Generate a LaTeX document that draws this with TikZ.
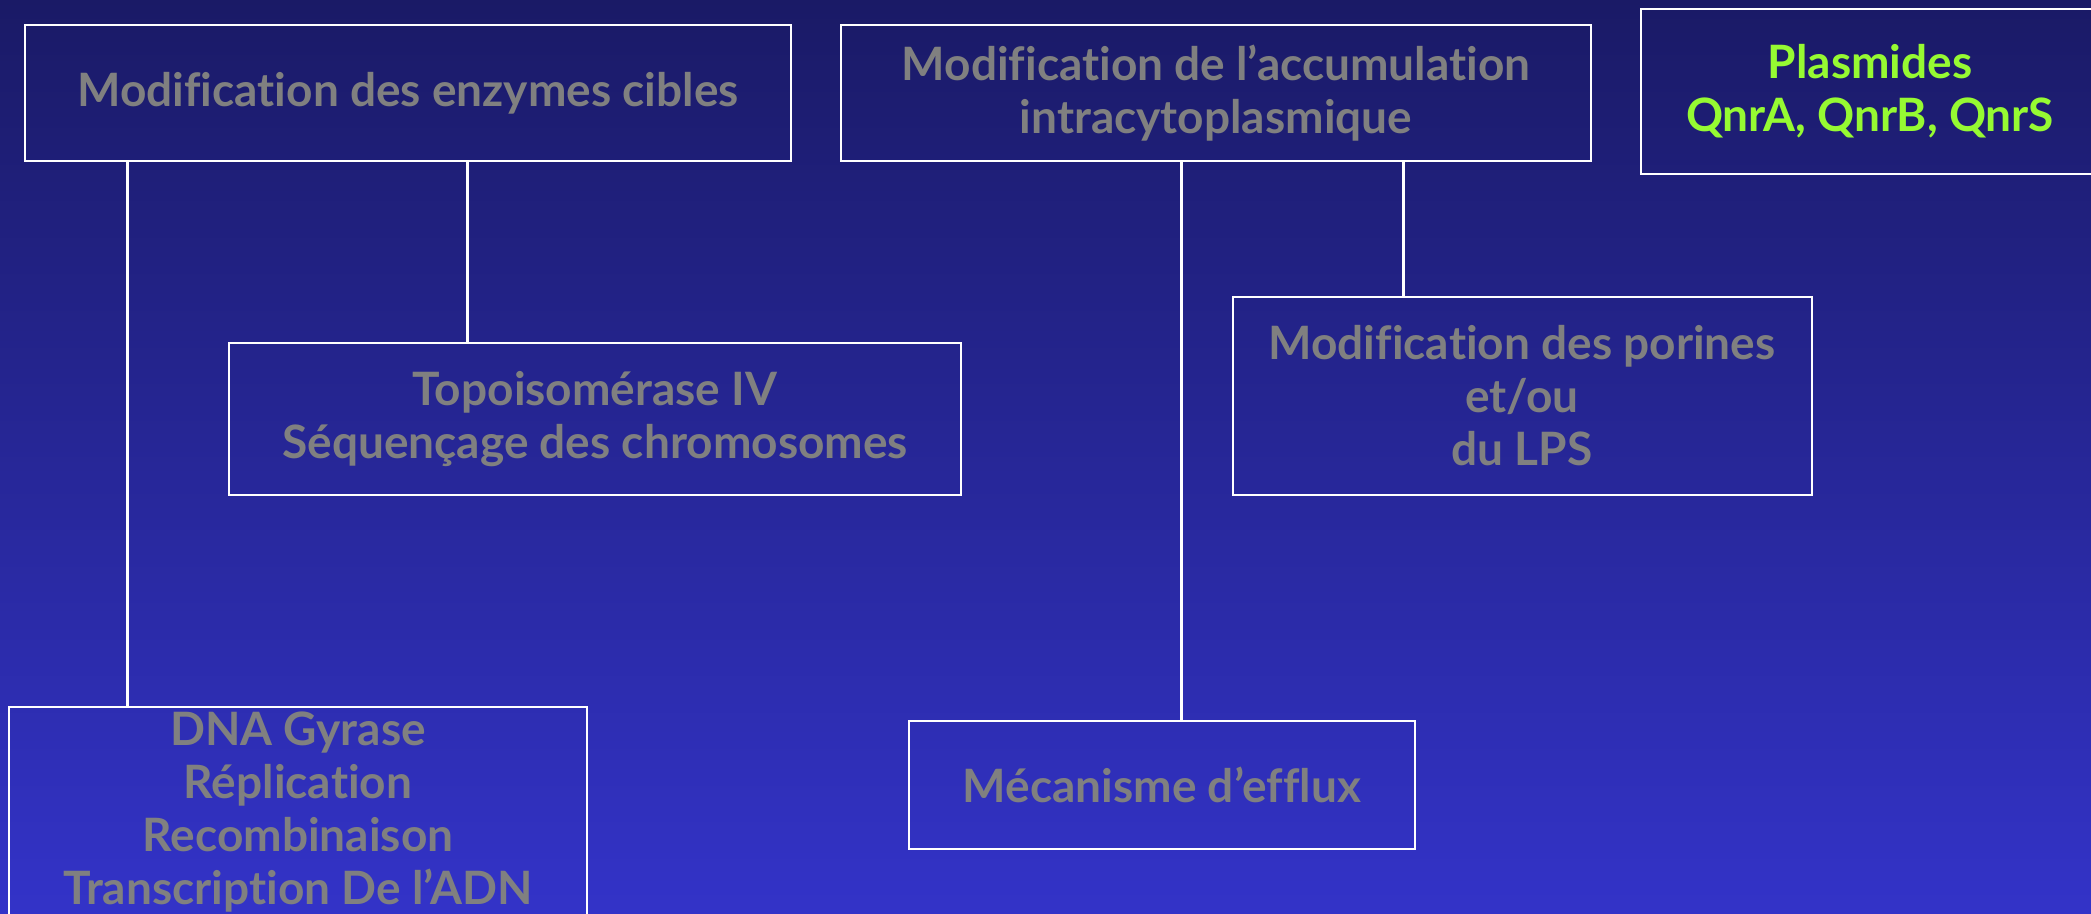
\documentclass[tikz,border=0pt]{standalone}
\usepackage{fontspec}
\setmainfont{Lato}[Ligatures={TeX,NoCommon}]
\definecolor{bgtop}{RGB}{26,26,102}
\definecolor{bgbot}{RGB}{51,51,200}
\definecolor{txtgray}{RGB}{128,128,128}
\definecolor{txtgreen}{RGB}{150,250,50}
\tikzset{
  boxnode/.style={draw=white, line width=2pt, rectangle, align=center, inner sep=0pt,
     font=\fontsize{46}{53}\selectfont\bfseries, text=txtgray},
  conn/.style={draw=white, line width=3pt}
}
\begin{document}
\begin{tikzpicture}[x=1pt,y=-1pt]
\useasboundingbox (0,0) rectangle (2091,913);
\shade[top color=bgtop, bottom color=bgbot] (0,0) rectangle (2091,913);
\node[boxnode, minimum width=766pt, minimum height=136pt] (b1) at (408,93) {Modification des enzymes cibles};
\node[boxnode, minimum width=750pt, minimum height=136pt] (b2) at (1216,93) {Modification de l'accumulation\\intracytoplasmique};
\node[boxnode, text=txtgreen, minimum width=458pt, minimum height=165pt] (pl) at (1870,91) {Plasmides\\QnrA, QnrB, QnrS};
\node[boxnode, minimum width=732pt, minimum height=152pt] (topo) at (595,419) {Topoisomérase IV\\Séquençage des chromosomes};
\node[boxnode, minimum width=579pt, minimum height=198pt] (por) at (1522,396) {Modification des porines\\et/ou\\du LPS};
\node[boxnode, minimum width=578pt, minimum height=210pt] (dna) at (298,812) {DNA Gyrase\\Réplication\\Recombinaison\\Transcription De l'ADN};
\node[boxnode, minimum width=506pt, minimum height=128pt] (eff) at (1162,785) {Mécanisme d'efflux};
\coordinate (xa) at (127,0);
\coordinate (xb) at (467,0);
\coordinate (xc) at (1181,0);
\coordinate (xd) at (1403,0);
\draw[conn] (b1.south -| xa) -- (dna.north -| xa);
\draw[conn] (b1.south -| xb) -- (topo.north -| xb);
\draw[conn] (b2.south -| xc) -- (eff.north -| xc);
\draw[conn] (b2.south -| xd) -- (por.north -| xd);
\end{tikzpicture}
\end{document}
